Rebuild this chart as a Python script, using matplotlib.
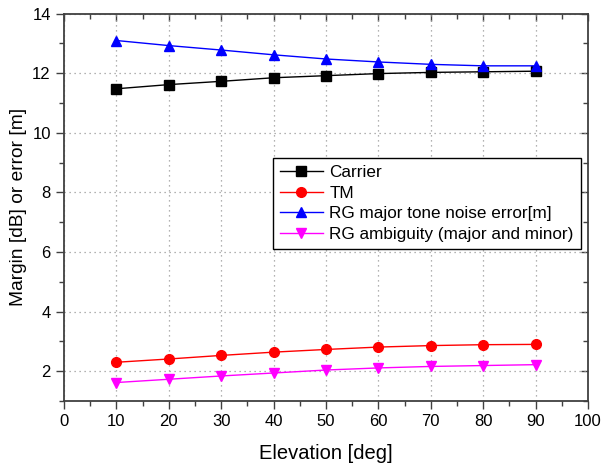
import matplotlib
matplotlib.use("Agg")
import matplotlib.pyplot as plt
from matplotlib.ticker import MultipleLocator

plt.rcParams['font.family'] = ['Liberation Sans', 'DejaVu Sans']

elevation = [10, 20, 30, 40, 50, 60, 70, 80, 90]
carrier = [11.48, 11.62, 11.73, 11.85, 11.92, 11.99, 12.03, 12.05, 12.07]
tm = [2.30, 2.41, 2.53, 2.64, 2.73, 2.81, 2.86, 2.89, 2.90]
rg_noise = [13.10, 12.93, 12.78, 12.62, 12.48, 12.38, 12.30, 12.25, 12.25]
rg_ambiguity = [1.62, 1.73, 1.84, 1.94, 2.04, 2.11, 2.16, 2.19, 2.22]
labels = ["Carrier", "TM", "RG major tone noise error[m]", "RG ambiguity (major and minor)"]

fig = plt.figure(figsize=(6.02, 4.67), dpi=100)
ax = fig.add_axes([64/602, 1-401/467, (588-64)/602, (401-13.7)/467])

ax.plot(elevation, carrier, color='black', lw=1, marker='s', ms=6.5, label=labels[0])
ax.plot(elevation, tm, color='red', lw=1, marker='o', ms=7, label=labels[1])
ax.plot(elevation, rg_noise, color='blue', lw=1, marker='^', ms=7.5, label=labels[2])
ax.plot(elevation, rg_ambiguity, color='magenta', lw=1, marker='v', ms=7.5, label=labels[3])

ax.set_xlim(0, 100)
ax.set_ylim(1, 14)
ax.xaxis.set_major_locator(MultipleLocator(10))
ax.xaxis.set_minor_locator(MultipleLocator(5))
ax.yaxis.set_major_locator(MultipleLocator(2))
ax.yaxis.set_minor_locator(MultipleLocator(1))

ax.grid(True, which='major', color='#999999', linestyle=(0, (1, 3)), lw=0.9)

for sp in ax.spines.values():
    sp.set_color('#404040')
    sp.set_linewidth(1.3)

ax.tick_params(axis='both', which='major', direction='out', length=6, width=1, color='#404040',
               labelsize=12, top=False, right=False)
ax.tick_params(axis='both', which='minor', direction='out', length=3.5, width=1, color='#404040',
               top=False, right=False)
# inward ticks on top and right
ax2 = ax.secondary_xaxis('top')
ax2.xaxis.set_major_locator(MultipleLocator(10))
ax2.xaxis.set_minor_locator(MultipleLocator(5))
ax2.tick_params(which='major', direction='in', length=5, width=1, color='#404040', labeltop=False)
ax2.tick_params(which='minor', direction='in', length=3.5, width=1, color='#404040')
ax2.spines['top'].set_visible(False)
ay2 = ax.secondary_yaxis('right')
ay2.yaxis.set_major_locator(MultipleLocator(2))
ay2.yaxis.set_minor_locator(MultipleLocator(1))
ay2.tick_params(which='major', direction='in', length=5, width=1, color='#404040', labelright=False)
ay2.tick_params(which='minor', direction='in', length=3.5, width=1, color='#404040')
ay2.spines['right'].set_visible(False)

ax.set_xlabel("Elevation [deg]", fontsize=14.5, labelpad=11)
ax.set_ylabel("Margin [dB] or error [m]", fontsize=13.8, labelpad=4)

leg = ax.legend(loc='upper left', bbox_to_anchor=(0.399, 0.627), fontsize=12.3,
                frameon=True, fancybox=False, edgecolor='black', framealpha=1,
                handlelength=2.5, labelspacing=0.33, borderpad=0.4, handletextpad=0.4,
                borderaxespad=0)
leg.get_frame().set_linewidth(1.0)

fig.savefig("out.png", dpi=100)
